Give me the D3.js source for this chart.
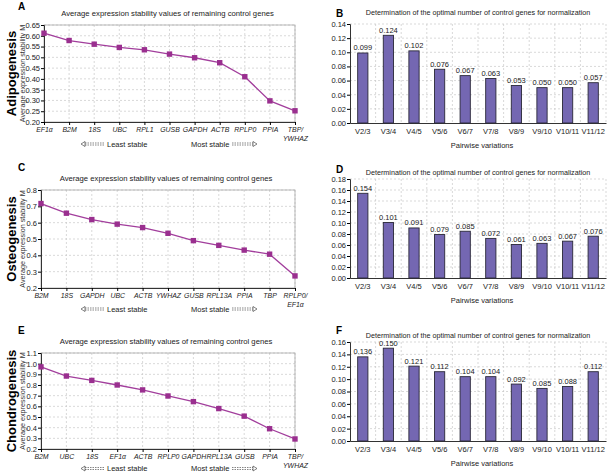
<html>
<script src="https://d3js.org/d3.v7.min.js"></script>
<body style="margin:0; background:#fff">
<svg width=608 height=473></svg>
<script>
// line panels: genes and average stability M
var genesA = ["EF1α", "B2M", "18S", "UBC", "RPL1", "GUSB", "GAPDH", "ACTB", "RPLP0", "PPIA", "TBP/YWHAZ"];
var mA = [0.612, 0.578, 0.561, 0.546, 0.535, 0.515, 0.498, 0.475, 0.410, 0.298, 0.252];
var genesC = ["B2M", "18S", "GAPDH", "UBC", "ACTB", "YWHAZ", "GUSB", "RPL13A", "PPIA", "TBP", "RPLP0/EF1α"];
var mC = [0.717, 0.658, 0.619, 0.591, 0.570, 0.535, 0.490, 0.461, 0.432, 0.407, 0.274];
var genesE = ["B2M", "UBC", "18S", "EF1α", "ACTB", "RPLP0", "GAPDH", "RPL13A", "GUSB", "PPIA", "TBP/YWHAZ"];
var mE = [0.970, 0.884, 0.843, 0.800, 0.754, 0.697, 0.644, 0.579, 0.508, 0.390, 0.294];
var ticksA = [0.20, 0.25, 0.30, 0.35, 0.40, 0.45, 0.50, 0.55, 0.60, 0.65];
var ticksC = [0.2, 0.3, 0.4, 0.5, 0.6, 0.7, 0.8];
var ticksE = [0.2, 0.3, 0.4, 0.5, 0.6, 0.7, 0.8, 0.9, 1.0, 1.1];

// bar panels: pairwise variations
var pairs = ["V2/3", "V3/4", "V4/5", "V5/6", "V6/7", "V7/8", "V8/9", "V9/10", "V10/11", "V11/12"];
var vB = [0.099, 0.124, 0.102, 0.076, 0.067, 0.063, 0.053, 0.050, 0.050, 0.057];
var vD = [0.154, 0.101, 0.091, 0.079, 0.085, 0.072, 0.061, 0.063, 0.067, 0.076];
var vF = [0.136, 0.150, 0.121, 0.112, 0.104, 0.104, 0.092, 0.085, 0.088, 0.112];
var ticksB = [0, 0.02, 0.04, 0.06, 0.08, 0.10, 0.12, 0.14];
var ticksD = [0, 0.02, 0.04, 0.06, 0.08, 0.10, 0.12, 0.14, 0.16, 0.18];
var ticksF = [0, 0.02, 0.04, 0.06, 0.08, 0.10, 0.12, 0.14, 0.16];

var rowNames = ["Adipogenesis", "Osteogenesis", "Chondrogenesis"];

var font = "'Liberation Sans', Arial, sans-serif";
var lineColor = "#a23e9c", markColor = "#9a2f8f";
var barColor = "#7467b2", barStroke = "#2a2838";
var gridColor = "#c8c8c8";

var svg = d3.select("svg").style("font-family", font);

function drawLine(opt) {
	var g = svg.append("g");
	var x = d3.scalePoint().domain(opt.genes).range([opt.left, opt.right]);
	var y = d3.scaleLinear().domain([opt.ticks[0], opt.ticks[opt.ticks.length - 1]]).range([opt.bottom, opt.top]);
	// grid
	g.append("g").selectAll("line").data(opt.ticks.slice(1)).enter().append("line")
		.attr("x1", opt.left).attr("x2", opt.right)
		.attr("y1", d => y(d)).attr("y2", d => y(d))
		.attr("stroke", gridColor).attr("stroke-dasharray", "2,2").attr("stroke-width", 0.7);
	g.append("g").selectAll("line").data(opt.genes.slice(1)).enter().append("line")
		.attr("x1", d => x(d)).attr("x2", d => x(d))
		.attr("y1", opt.top).attr("y2", opt.bottom)
		.attr("stroke", gridColor).attr("stroke-dasharray", "2,2").attr("stroke-width", 0.7);
	g.append("rect").attr("x", opt.left).attr("y", opt.top)
		.attr("width", opt.right - opt.left).attr("height", opt.bottom - opt.top)
		.attr("fill", "none").attr("stroke", "#a8a8a8").attr("stroke-width", 0.8);
	// axes
	var ya = g.append("g").attr("transform", "translate(" + opt.left + ",0)")
		.call(d3.axisLeft(y).tickValues(opt.ticks).tickFormat(d3.format(opt.fmt)).tickSize(3).tickPadding(1));
	ya.selectAll("text").style("font-size", "7.5px").attr("fill", "#222");
	var xa = g.append("g").attr("transform", "translate(0," + opt.bottom + ")")
		.call(d3.axisBottom(x).tickSize(3).tickPadding(2));
	xa.select(".domain").attr("stroke", "#333");
	ya.select(".domain").attr("stroke", "#333");
	// gene names are drawn slightly condensed, as in the original figure
	xa.selectAll("text").style("font-size", "7.7px").style("font-style", "italic")
		.attr("fill", "#222").attr("transform", "scale(0.9,1)")
		.each(function(d) {
			var t = d3.select(this), parts = d.split("/");
			if (parts.length > 1) {
				t.text(null);
				t.append("tspan").attr("x", 0).text(parts[0] + "/");
				t.append("tspan").attr("x", 0).attr("dy", "1.15em").text(parts[1]);
			}
		});
	// line + markers
	var pts = opt.genes.map((gname, i) => [x(gname), y(opt.values[i])]);
	g.append("path").attr("d", d3.line()(pts)).attr("fill", "none")
		.attr("stroke", lineColor).attr("stroke-width", 1.3);
	g.selectAll(".mk").data(pts).enter().append("rect")
		.attr("x", d => d[0] - 2.7).attr("y", d => d[1] - 2.7)
		.attr("width", 5.4).attr("height", 5.4).attr("fill", markColor);
	// title, y label, panel letter
	g.append("text").attr("x", (opt.left + opt.right) / 2 - 2).attr("y", opt.top - 9)
		.attr("text-anchor", "middle").style("font-size", "7.7px").attr("fill", "#222")
		.text("Average expression stability values of remaining control genes");
	g.append("text").attr("transform", "translate(" + 25 + "," + ((opt.top + opt.bottom) / 2) + ") rotate(-90)")
		.attr("text-anchor", "middle").style("font-size", "7.2px").attr("fill", "#333")
		.text("Average expression stability M");
	g.append("text").attr("x", 18).attr("y", opt.letterY).style("font-size", "10px")
		.style("font-weight", "bold").text(opt.letter);
	g.append("text").attr("transform", "translate(" + 16 + "," + ((opt.top + opt.bottom) / 2) + ") rotate(-90)")
		.attr("text-anchor", "middle").style("font-size", "13px").style("font-weight", "bold")
		.text(opt.row);
	// stability arrows
	var ay = opt.arrowY;
	arrow(g, 81, 105, ay, true);
	g.append("text").attr("x", 107).attr("y", ay + 2.7).style("font-size", "7.5px").attr("fill", "#222").text("Least stable");
	g.append("text").attr("x", 191).attr("y", ay + 2.7).style("font-size", "7.5px").attr("fill", "#222").text("Most stable");
	arrow(g, 232, 257, ay, false);
}

function arrow(g, x1, x2, yy, left) {
	var a = g.append("g").attr("stroke", "#333").attr("stroke-width", 0.6).attr("fill", "none");
	var s = left ? x1 + 4 : x1, e = left ? x2 : x2 - 4;
	a.append("line").attr("x1", s).attr("x2", e).attr("y1", yy - 1).attr("y2", yy - 1).attr("stroke-dasharray", "1.5,1");
	a.append("line").attr("x1", s).attr("x2", e).attr("y1", yy + 1).attr("y2", yy + 1).attr("stroke-dasharray", "1.5,1");
	var tip = left ? x1 : x2, base = left ? x1 + 4 : x2 - 4;
	a.append("path").attr("d", "M" + base + "," + (yy - 2.5) + "L" + tip + "," + yy + "L" + base + "," + (yy + 2.5) + "Z").attr("fill", "#fff");
}

function drawBar(opt) {
	var g = svg.append("g");
	var x = d3.scaleBand().domain(pairs).range([opt.left, opt.right]).paddingInner(0.6).paddingOuter(0.3);
	var y = d3.scaleLinear().domain([0, opt.ticks[opt.ticks.length - 1]]).range([opt.bottom, opt.top]);
	var half = (x.step() - x.bandwidth()) / 2;
	g.append("g").selectAll("line").data(opt.ticks.slice(1)).enter().append("line")
		.attr("x1", opt.left).attr("x2", opt.right)
		.attr("y1", d => y(d)).attr("y2", d => y(d))
		.attr("stroke", gridColor).attr("stroke-dasharray", "2,2").attr("stroke-width", 0.7);
	g.append("g").selectAll("line").data(pairs).enter().append("line")
		.attr("x1", d => x(d) + x.bandwidth() + half).attr("x2", d => x(d) + x.bandwidth() + half)
		.attr("y1", opt.top).attr("y2", opt.bottom)
		.attr("stroke", gridColor).attr("stroke-dasharray", "2,2").attr("stroke-width", 0.7);
	var ya = g.append("g").attr("transform", "translate(" + opt.left + ",0)")
		.call(d3.axisLeft(y).tickValues(opt.ticks).tickFormat(d3.format(".2f")).tickSize(3).tickPadding(1));
	ya.selectAll("text").style("font-size", "7.5px").attr("fill", "#222");
	ya.select(".domain").attr("stroke", "#333");
	var xa = g.append("g").attr("transform", "translate(0," + opt.bottom + ")")
		.call(d3.axisBottom(x).tickSize(0).tickPadding(6));
	xa.selectAll("text").style("font-size", "7.5px").attr("fill", "#222");
	xa.select(".domain").attr("stroke", "#333");
	g.selectAll(".bar").data(opt.values).enter().append("rect")
		.attr("x", (d, i) => x(pairs[i])).attr("y", d => y(d))
		.attr("width", x.bandwidth()).attr("height", d => opt.bottom - y(d))
		.attr("fill", barColor).attr("stroke", barStroke).attr("stroke-width", 0.9);
	g.selectAll(".val").data(opt.values).enter().append("text")
		.attr("x", (d, i) => x(pairs[i]) + x.bandwidth() / 2).attr("y", d => y(d) - 2.5)
		.attr("text-anchor", "middle").style("font-size", "7.5px").attr("fill", "#222")
		.text(d => d3.format(".3f")(d));
	g.append("text").attr("x", (opt.left + opt.right) / 2 + 4).attr("y", opt.bottom + 25)
		.attr("text-anchor", "middle").style("font-size", "7.5px").attr("fill", "#222").text("Pairwise variations");
	g.append("text").attr("x", 478).attr("y", opt.titleY)
		.attr("text-anchor", "middle").style("font-size", "7.2px").attr("fill", "#222")
		.text("Determination of the optimal number of control genes for normalization");
	g.append("text").attr("x", 336).attr("y", opt.letterY).style("font-size", "10px")
		.style("font-weight", "bold").text(opt.letter);
}

drawLine({genes: genesA, values: mA, ticks: ticksA, fmt: ".2f", left: 44, right: 295, top: 25, bottom: 122,
	letter: "A", letterY: 10, row: rowNames[0], arrowY: 144});
drawLine({genes: genesC, values: mC, ticks: ticksC, fmt: ".1f", left: 41, right: 295, top: 190, bottom: 288,
	letter: "C", letterY: 171, row: rowNames[1], arrowY: 309});
drawLine({genes: genesE, values: mE, ticks: ticksE, fmt: ".1f", left: 41, right: 295, top: 353, bottom: 449,
	letter: "E", letterY: 334, row: rowNames[2], arrowY: 468.5});

drawBar({values: vB, ticks: ticksB, left: 350, right: 606, top: 24, bottom: 123, titleY: 14.5, letterY: 17, letter: "B"});
drawBar({values: vD, ticks: ticksD, left: 350, right: 606, top: 179, bottom: 278, titleY: 175, letterY: 173, letter: "D"});
drawBar({values: vF, ticks: ticksF, left: 350, right: 606, top: 342, bottom: 441, titleY: 338, letterY: 334, letter: "F"});
</script>
</body>
</html>
